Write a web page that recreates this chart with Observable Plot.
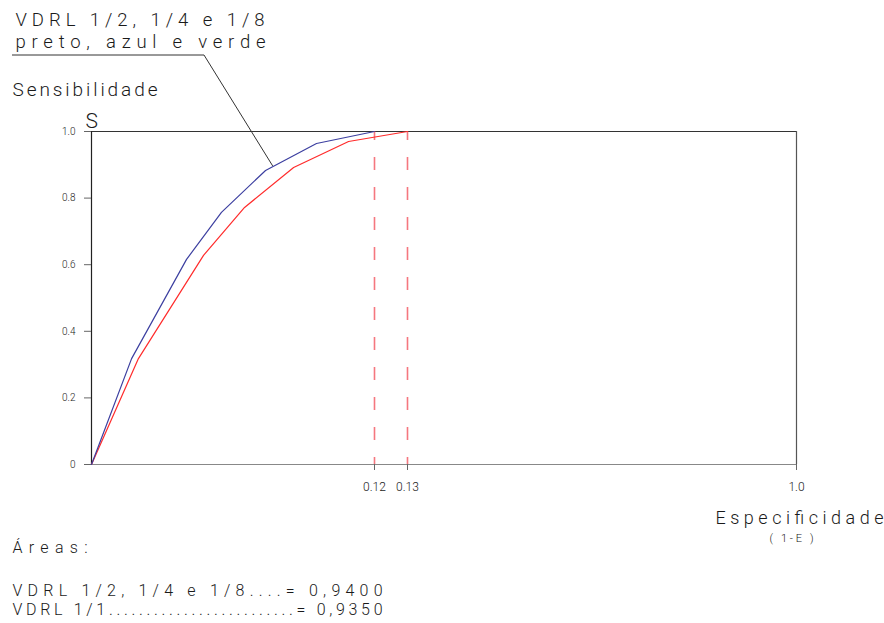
<!DOCTYPE html>
<html>
<head>
<meta charset="utf-8">
<script src="https://cdn.jsdelivr.net/npm/d3@7"></script>
<script src="https://cdn.jsdelivr.net/npm/@observablehq/plot@0.6"></script>
<style>
  body { margin: 0; background: #fff; }
  #chart svg text { font-weight: 300; }
</style>
</head>
<body>
<div id="chart"></div>
<script>
// ---- data ----
const blueX = [0, 0.0170, 0.0403, 0.0551, 0.0738, 0.0954, 0.12];
const blueY = [0, 0.318, 0.616, 0.757, 0.883, 0.964, 1.0];
const redX  = [0, 0.0199, 0.0475, 0.0649, 0.0857, 0.109, 0.13];
const redY  = [0, 0.318, 0.628, 0.772, 0.892, 0.970, 1.0];
const cutoffs = [0.12, 0.13];
const xTicks = [0.12, 0.13, 1.0];
const xTickLabels = ["0.12", "0.13", "1.0"];
const yTicks = [0, 0.2, 0.4, 0.6, 0.8, 1.0];
const yTickLabels = ["0", "0.2", "0.4", "0.6", "0.8", "1.0"];
const legendLines = ["VDRL 1/2, 1/4 e 1/8", "preto, azul e verde"];
const yTitle = "Sensibilidade";
const yShort = "S";
const xTitle = "Especificidade";
const xSub = "( 1-E )";
const areasTitle = "Áreas:";
const areaLines = ["VDRL 1/2, 1/4 e 1/8....= 0,9400", "VDRL 1/1.........................= 0,9350"];

const blue = blueX.map((x, i) => ({x, y: blueY[i]}));
const red = redX.map((x, i) => ({x, y: redY[i]}));

// text widths (style) used to match the stretched CAD lettering
const widths = new Map([
  [legendLines[0], 249], [legendLines[1], 250], [yTitle, 145],
  [xTitle, 168], [xSub, 44], [areasTitle, 75],
  [areaLines[0], 370], [areaLines[1], 370]
]);

const ink = "#1a1a1a";

function label(txt, anchor, dx, dy, fontSize) {
  return Plot.text([txt], {
    text: d => d, frameAnchor: anchor, dx, dy,
    textAnchor: "start", lineAnchor: "bottom",
    fontSize, fill: ink
  });
}

// leader from the legend text to the blue curve
function leader(index, scales) {
  const i = 4, t = 0.15;
  const tx = scales.x(blueX[i] + t * (blueX[i + 1] - blueX[i]));
  const ty = scales.y(blueY[i] + t * (blueY[i + 1] - blueY[i]));
  return d3.create("svg:path")
    .attr("d", `M12,55H204L${tx},${ty}`)
    .attr("fill", "none").attr("stroke", "#333").attr("stroke-width", 1)
    .node();
}

const chart = Plot.plot({
  width: 884,
  height: 623,
  marginLeft: 91, marginRight: 88, marginTop: 131, marginBottom: 159,
  style: {fontFamily: "Roboto, 'DejaVu Sans', sans-serif", background: "#fff", color: ink},
  x: {type: "linear", domain: [0, 0.12, 0.13, 1], range: [91, 374, 407, 796]},
  y: {domain: [0, 1], range: [464, 131]},
  marks: [
    Plot.ruleY([0], {stroke: "#888", strokeWidth: 1.2}),
    Plot.ruleY([1], {stroke: "#333", strokeWidth: 1.2}),
    Plot.ruleX([0], {stroke: "#222", strokeWidth: 1.2}),
    Plot.ruleX([1], {stroke: "#555", strokeWidth: 1.2}),
    Plot.axisY({ticks: yTicks, tickFormat: d => yTickLabels[yTicks.indexOf(d)],
      tickSize: 7, tickPadding: 9, fontSize: 10, label: null, stroke: "#666", fill: ink}),
    Plot.axisX({ticks: xTicks, tickFormat: d => xTickLabels[xTicks.indexOf(d)],
      tickSize: 6, tickPadding: 12, fontSize: 12, label: null, stroke: "#666", fill: ink}),
    Plot.ruleX(cutoffs, {y1: 1, y2: 0, stroke: "#f2555f", strokeWidth: 1.6, strokeOpacity: 0.8,
      strokeDasharray: "13,17", strokeDashoffset: 4}),
    Plot.line(red, {x: "x", y: "y", stroke: "#ff2b2b", strokeWidth: 1.2}),
    Plot.line(blue, {x: "x", y: "y", stroke: "#3c3fa0", strokeWidth: 1.2}),
    leader,
    label(legendLines[0], "top-left", -76, -106, 18.5),
    label(legendLines[1], "top-left", -76, -84, 18.5),
    label(yTitle, "top-left", -79, -36, 19),
    label(yShort, "top-left", -6, -4, 21),
    label(xTitle, "bottom-right", -81, 59, 18),
    label(xSub, "bottom-right", -27, 77, 11),
    label(areasTitle, "bottom-left", -79, 88, 16),
    label(areaLines[0], "bottom-left", -79, 131, 16),
    label(areaLines[1], "bottom-left", -79, 150, 16)
  ]
});

d3.select(chart).selectAll("text").each(function() {
  const w = widths.get(this.textContent);
  if (w) d3.select(this).attr("textLength", w).attr("lengthAdjust", "spacing");
});

document.getElementById("chart").append(chart);
</script>
</body>
</html>
